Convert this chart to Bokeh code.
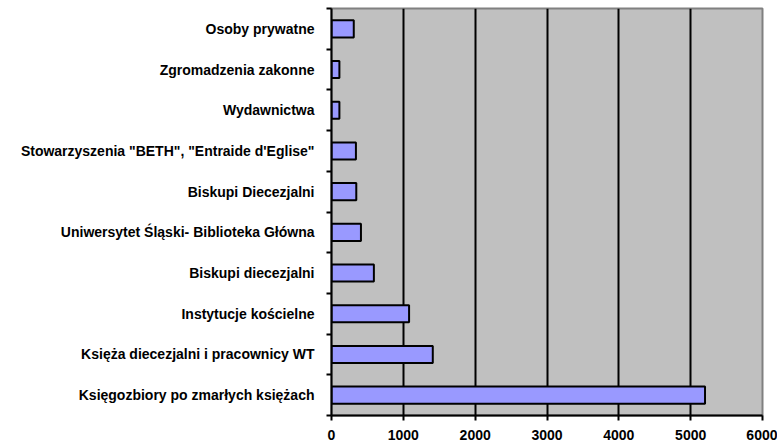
from bokeh.plotting import figure
from bokeh.models import Range1d, FixedTicker
from bokeh.embed import file_html
from bokeh.resources import INLINE

# bottom-to-top order
categories = [
    "Księgozbiory po zmarłych księżach",
    "Księża diecezjalni i pracownicy WT",
    "Instytucje kościelne",
    "Biskupi diecezjalni",
    "Uniwersytet Śląski- Biblioteka Główna",
    "Biskupi Diecezjalni",
    "Stowarzyszenia \"BETH\", \"Entraide d'Eglise\"",
    "Wydawnictwa",
    "Zgromadzenia zakonne",
    "Osoby prywatne",
]
values = [5200, 1410, 1080, 590, 410, 345, 340, 110, 110, 310]
x_ticks = [0, 1000, 2000, 3000, 4000, 5000, 6000]

n = len(categories)
centers = [i + 0.5 for i in range(n)]

p = figure(width=777, height=445, output_backend="svg", toolbar_location=None,
           x_range=Range1d(x_ticks[0], x_ticks[-1]), y_range=Range1d(0, n),
           min_border_left=331, min_border_right=15, min_border_top=8, min_border_bottom=30)

p.background_fill_color = "#C0C0C0"
p.border_fill_color = "white"
p.outline_line_color = "#808080"
p.outline_line_width = 2

p.hbar(y=centers, right=values, left=0, height=0.42,
       fill_color="#9999FF", line_color="black", line_width=2)

font = "Liberation Sans"

p.xaxis.ticker = FixedTicker(ticks=x_ticks)
p.xaxis.axis_line_width = 2
p.xaxis.axis_line_color = "black"
p.xaxis.major_tick_line_width = 2
p.xaxis.major_tick_out = 5
p.xaxis.major_tick_in = 0
p.xaxis.minor_tick_line_color = None
p.xaxis.major_label_text_font = font
p.xaxis.major_label_text_font_style = "bold"
p.xaxis.major_label_text_font_size = "14px"
p.xaxis.major_label_text_color = "black"
p.xaxis.major_label_standoff = 9

p.yaxis.ticker = FixedTicker(ticks=centers, minor_ticks=list(range(n + 1)))
p.yaxis.major_label_overrides = {c: lab for c, lab in zip(centers, categories)}
p.yaxis.axis_line_width = 2
p.yaxis.axis_line_color = "black"
p.yaxis.major_tick_line_color = None
p.yaxis.major_tick_out = 0
p.yaxis.major_tick_in = 0
p.yaxis.minor_tick_line_color = "black"
p.yaxis.minor_tick_line_width = 2
p.yaxis.minor_tick_out = 5
p.yaxis.minor_tick_in = 0
p.yaxis.major_label_text_font = font
p.yaxis.major_label_text_font_style = "bold"
p.yaxis.major_label_text_font_size = "14px"
p.yaxis.major_label_text_color = "black"
p.yaxis.major_label_standoff = 12

p.xgrid.ticker = FixedTicker(ticks=x_ticks[1:-1])
p.xgrid.grid_line_color = "black"
p.xgrid.grid_line_width = 2
p.ygrid.grid_line_color = None

open("out.html", "w").write(file_html(p, INLINE))
